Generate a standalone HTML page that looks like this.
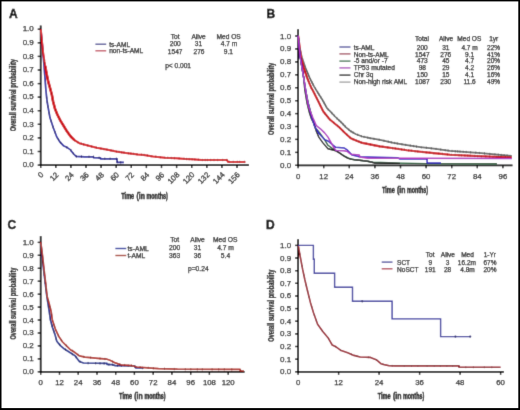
<!DOCTYPE html>
<html><head><meta charset="utf-8"><style>
html,body{margin:0;padding:0;background:#fff;width:520px;height:410px;overflow:hidden;}
svg{display:block;font-family:"Liberation Sans", sans-serif;}
</style></head><body>
<svg width="520" height="410" viewBox="0 0 520 410">
<defs><filter id="b" x="0" y="0" width="520" height="410" filterUnits="userSpaceOnUse"><feConvolveMatrix order="3" kernelMatrix="0.0113 0.0838 0.0113 0.0838 0.6193 0.0838 0.0113 0.0838 0.0113" edgeMode="duplicate"/></filter></defs>
<g filter="url(#b)">
<rect x="0" y="0" width="520" height="410" fill="#fff"/>
<text x="8.9" y="17.7" font-size="12" font-weight="bold" fill="#000" stroke="#000" stroke-width="0.4">A</text>
<line x1="40.7" y1="25.5" x2="40.7" y2="166.0" stroke="#000" stroke-width="1.8"/>
<line x1="39.800000000000004" y1="165.1" x2="249.0" y2="165.1" stroke="#000" stroke-width="1.8"/>
<line x1="37.7" y1="165.1" x2="40.7" y2="165.1" stroke="#000" stroke-width="1.4"/>
<text x="33.8" y="167.2" font-size="8" text-anchor="end" fill="#1a1a1a" stroke="#1a1a1a" stroke-width="0.25" font-weight="normal" >0.0</text>
<line x1="37.7" y1="151.5" x2="40.7" y2="151.5" stroke="#000" stroke-width="1.4"/>
<text x="33.8" y="153.7" font-size="8" text-anchor="end" fill="#1a1a1a" stroke="#1a1a1a" stroke-width="0.25" font-weight="normal" >0.1</text>
<line x1="37.7" y1="137.9" x2="40.7" y2="137.9" stroke="#000" stroke-width="1.4"/>
<text x="33.8" y="140.1" font-size="8" text-anchor="end" fill="#1a1a1a" stroke="#1a1a1a" stroke-width="0.25" font-weight="normal" >0.2</text>
<line x1="37.7" y1="124.3" x2="40.7" y2="124.3" stroke="#000" stroke-width="1.4"/>
<text x="33.8" y="126.5" font-size="8" text-anchor="end" fill="#1a1a1a" stroke="#1a1a1a" stroke-width="0.25" font-weight="normal" >0.3</text>
<line x1="37.7" y1="110.7" x2="40.7" y2="110.7" stroke="#000" stroke-width="1.4"/>
<text x="33.8" y="112.9" font-size="8" text-anchor="end" fill="#1a1a1a" stroke="#1a1a1a" stroke-width="0.25" font-weight="normal" >0.4</text>
<line x1="37.7" y1="97.1" x2="40.7" y2="97.1" stroke="#000" stroke-width="1.4"/>
<text x="33.8" y="99.3" font-size="8" text-anchor="end" fill="#1a1a1a" stroke="#1a1a1a" stroke-width="0.25" font-weight="normal" >0.5</text>
<line x1="37.7" y1="83.6" x2="40.7" y2="83.6" stroke="#000" stroke-width="1.4"/>
<text x="33.8" y="85.7" font-size="8" text-anchor="end" fill="#1a1a1a" stroke="#1a1a1a" stroke-width="0.25" font-weight="normal" >0.6</text>
<line x1="37.7" y1="70.0" x2="40.7" y2="70.0" stroke="#000" stroke-width="1.4"/>
<text x="33.8" y="72.1" font-size="8" text-anchor="end" fill="#1a1a1a" stroke="#1a1a1a" stroke-width="0.25" font-weight="normal" >0.7</text>
<line x1="37.7" y1="56.4" x2="40.7" y2="56.4" stroke="#000" stroke-width="1.4"/>
<text x="33.8" y="58.5" font-size="8" text-anchor="end" fill="#1a1a1a" stroke="#1a1a1a" stroke-width="0.25" font-weight="normal" >0.8</text>
<line x1="37.7" y1="42.8" x2="40.7" y2="42.8" stroke="#000" stroke-width="1.4"/>
<text x="33.8" y="44.9" font-size="8" text-anchor="end" fill="#1a1a1a" stroke="#1a1a1a" stroke-width="0.25" font-weight="normal" >0.9</text>
<line x1="37.7" y1="29.2" x2="40.7" y2="29.2" stroke="#000" stroke-width="1.4"/>
<text x="33.8" y="31.3" font-size="8" text-anchor="end" fill="#1a1a1a" stroke="#1a1a1a" stroke-width="0.25" font-weight="normal" >1.0</text>
<line x1="40.7" y1="165.1" x2="40.7" y2="168.1" stroke="#000" stroke-width="1.4"/>
<line x1="55.8" y1="165.1" x2="55.8" y2="168.1" stroke="#000" stroke-width="1.4"/>
<line x1="70.9" y1="165.1" x2="70.9" y2="168.1" stroke="#000" stroke-width="1.4"/>
<line x1="86.0" y1="165.1" x2="86.0" y2="168.1" stroke="#000" stroke-width="1.4"/>
<line x1="101.1" y1="165.1" x2="101.1" y2="168.1" stroke="#000" stroke-width="1.4"/>
<line x1="116.2" y1="165.1" x2="116.2" y2="168.1" stroke="#000" stroke-width="1.4"/>
<line x1="131.3" y1="165.1" x2="131.3" y2="168.1" stroke="#000" stroke-width="1.4"/>
<line x1="146.4" y1="165.1" x2="146.4" y2="168.1" stroke="#000" stroke-width="1.4"/>
<line x1="161.5" y1="165.1" x2="161.5" y2="168.1" stroke="#000" stroke-width="1.4"/>
<line x1="176.6" y1="165.1" x2="176.6" y2="168.1" stroke="#000" stroke-width="1.4"/>
<line x1="191.7" y1="165.1" x2="191.7" y2="168.1" stroke="#000" stroke-width="1.4"/>
<line x1="206.8" y1="165.1" x2="206.8" y2="168.1" stroke="#000" stroke-width="1.4"/>
<line x1="221.9" y1="165.1" x2="221.9" y2="168.1" stroke="#000" stroke-width="1.4"/>
<line x1="237.0" y1="165.1" x2="237.0" y2="168.1" stroke="#000" stroke-width="1.4"/>
<text transform="translate(44.1,175.3) rotate(-45)" font-size="7.8" text-anchor="end" fill="#1a1a1a" stroke="#1a1a1a" stroke-width="0.25">0</text>
<text transform="translate(59.2,175.3) rotate(-45)" font-size="7.8" text-anchor="end" fill="#1a1a1a" stroke="#1a1a1a" stroke-width="0.25">12</text>
<text transform="translate(74.3,175.3) rotate(-45)" font-size="7.8" text-anchor="end" fill="#1a1a1a" stroke="#1a1a1a" stroke-width="0.25">24</text>
<text transform="translate(89.4,175.3) rotate(-45)" font-size="7.8" text-anchor="end" fill="#1a1a1a" stroke="#1a1a1a" stroke-width="0.25">36</text>
<text transform="translate(104.5,175.3) rotate(-45)" font-size="7.8" text-anchor="end" fill="#1a1a1a" stroke="#1a1a1a" stroke-width="0.25">48</text>
<text transform="translate(119.6,175.3) rotate(-45)" font-size="7.8" text-anchor="end" fill="#1a1a1a" stroke="#1a1a1a" stroke-width="0.25">60</text>
<text transform="translate(134.7,175.3) rotate(-45)" font-size="7.8" text-anchor="end" fill="#1a1a1a" stroke="#1a1a1a" stroke-width="0.25">72</text>
<text transform="translate(149.8,175.3) rotate(-45)" font-size="7.8" text-anchor="end" fill="#1a1a1a" stroke="#1a1a1a" stroke-width="0.25">84</text>
<text transform="translate(164.9,175.3) rotate(-45)" font-size="7.8" text-anchor="end" fill="#1a1a1a" stroke="#1a1a1a" stroke-width="0.25">96</text>
<text transform="translate(180.0,175.3) rotate(-45)" font-size="7.8" text-anchor="end" fill="#1a1a1a" stroke="#1a1a1a" stroke-width="0.25">108</text>
<text transform="translate(195.1,175.3) rotate(-45)" font-size="7.8" text-anchor="end" fill="#1a1a1a" stroke="#1a1a1a" stroke-width="0.25">120</text>
<text transform="translate(210.2,175.3) rotate(-45)" font-size="7.8" text-anchor="end" fill="#1a1a1a" stroke="#1a1a1a" stroke-width="0.25">132</text>
<text transform="translate(225.3,175.3) rotate(-45)" font-size="7.8" text-anchor="end" fill="#1a1a1a" stroke="#1a1a1a" stroke-width="0.25">144</text>
<text transform="translate(240.4,175.3) rotate(-45)" font-size="7.8" text-anchor="end" fill="#1a1a1a" stroke="#1a1a1a" stroke-width="0.25">156</text>
<text transform="translate(16.0,131.3) rotate(-90)" x="0" y="0" font-size="9" font-weight="bold" fill="#111" stroke="#111" stroke-width="0.3" textLength="72.3" lengthAdjust="spacingAndGlyphs">Overall survival probability</text>
<text x="121.30" y="199.0" font-size="9.5" font-weight="bold" fill="#111" stroke="#111" stroke-width="0.45" textLength="12.90" lengthAdjust="spacingAndGlyphs">Time</text>
<text x="136.50" y="199.0" font-size="9.5" font-weight="bold" fill="#111" stroke="#111" stroke-width="0.45" textLength="8.40" lengthAdjust="spacingAndGlyphs">(in</text>
<text x="146.60" y="199.0" font-size="9.5" font-weight="bold" fill="#111" stroke="#111" stroke-width="0.45" textLength="21.10" lengthAdjust="spacingAndGlyphs">months)</text>
<polyline points="40.8,29.1 42.3,44.5 43.3,56.2 43.9,64.0 44.8,75.7 45.8,89.0 46.8,99.1 47.8,105.6 50.0,117.8 53.4,128.0 56.8,137.0 59.8,141.8 63.4,145.7 67.3,147.6 70.2,149.6 73.2,153.5 76.1,156.4 84.9,156.8 93.5,156.8 93.5,157.6 100.5,157.8 100.5,158.8 117.1,158.8 117.1,162.3 123.9,162.3" fill="none" stroke="#2222a0" stroke-width="1.7" stroke-linejoin="round" />
<path d="M46.7,96.7v2.4 M47.2,100.8v2.4 M48.0,105.4v2.4 M49.2,111.9v2.4 M51.1,119.8v2.4 M53.1,125.9v2.4 M55.0,131.0v2.4 M58.5,138.5v2.4 M60.7,141.6v2.4 M66.8,146.2v2.4 M70.8,149.1v2.4 M73.4,152.5v2.4 M76.4,155.2v2.4 M81.5,155.4v2.4 M89.0,155.6v2.4 M93.5,155.6v2.4 M99.1,156.6v2.4 M104.8,157.6v2.4 M110.1,157.6v2.4 M116.4,157.6v2.4 M117.1,160.8v2.4 M120.7,161.1v2.4" stroke="#1a1060" stroke-width="0.8" fill="none"/>
<polyline points="45.2,66.0 46.6,73.7 48.2,81.4 50.2,88.6 51.9,95.0 53.1,101.5 54.9,108.4 57.3,114.5 60.4,120.6 63.4,125.5 67.1,131.6 70.7,136.5 74.4,140.1" fill="none" stroke="#d40c18" stroke-width="2.6" stroke-linejoin="round" />
<polyline points="40.8,29.1 41.9,40.6 43.1,52.3 44.5,62.0 45.2,66.0 46.6,73.7 48.2,81.4 50.2,88.6 51.9,95.0 53.1,101.5 54.9,108.4 57.3,114.5 60.4,120.6 63.4,125.5 67.1,131.6 70.7,136.5 74.4,140.1 79.3,143.2 86.8,145.2 96.6,147.8 106.4,149.6 116.1,151.5 125.9,152.9 138.0,154.5 143.8,154.9 153.1,156.5 164.6,157.7 176.2,158.2 185.4,158.9 192.3,159.3 201.5,160.0 227.0,160.0 228.0,161.9 245.4,161.9" fill="none" stroke="#d80a14" stroke-width="2.0" stroke-linejoin="round" />
<path d="M44.2,58.4v2.4 M44.7,62.2v2.4 M45.4,65.8v2.4 M46.2,70.4v2.4 M47.0,74.6v2.4 M47.6,77.5v2.4 M48.8,82.4v2.4 M49.5,84.8v2.4 M50.4,88.0v2.4 M51.5,92.2v2.4 M52.1,94.8v2.4 M52.7,98.3v2.4 M53.2,100.5v2.4 M54.2,104.4v2.4 M55.5,108.6v2.4 M56.8,112.2v2.4 M58.9,116.4v2.4 M60.3,119.1v2.4 M62.4,122.7v2.4 M64.4,126.0v2.4 M66.4,129.3v2.4 M68.4,132.1v2.4 M71.2,135.7v2.4 M74.7,139.1v2.4 M77.7,141.0v2.4 M81.4,142.6v2.4 M83.6,143.2v2.4 M87.7,144.2v2.4 M91.6,145.3v2.4 M96.4,146.5v2.4 M100.9,147.4v2.4 M103.8,147.9v2.4 M107.0,148.5v2.4 M111.0,149.3v2.4 M113.2,149.7v2.4 M116.6,150.4v2.4 M119.2,150.7v2.4 M121.7,151.1v2.4 M124.0,151.4v2.4 M128.4,152.0v2.4 M130.9,152.4v2.4 M133.7,152.7v2.4 M137.0,153.2v2.4 M141.6,153.6v2.4 M144.0,153.7v2.4 M147.4,154.3v2.4 M151.1,155.0v2.4 M155.8,155.6v2.4 M160.3,156.0v2.4 M164.9,156.5v2.4 M167.8,156.6v2.4 M171.2,156.8v2.4 M174.4,156.9v2.4 M179.1,157.2v2.4 M184.0,157.6v2.4 M186.6,157.8v2.4 M189.2,157.9v2.4 M192.1,158.1v2.4 M194.9,158.3v2.4 M198.4,158.6v2.4 M202.3,158.8v2.4 M205.2,158.8v2.4 M207.4,158.8v2.4 M210.7,158.8v2.4 M214.0,158.8v2.4 M217.7,158.8v2.4 M222.7,158.8v2.4 M226.8,158.8v2.4 M229.3,160.7v2.4 M233.2,160.7v2.4 M237.3,160.7v2.4 M239.7,160.7v2.4 M244.4,160.7v2.4" stroke="#a00c18" stroke-width="0.6" fill="none"/>
<line x1="95.4" y1="44.2" x2="106.2" y2="44.2" stroke="#4a4a90" stroke-width="1.3"/>
<line x1="95.4" y1="50.8" x2="106.2" y2="50.8" stroke="#c04a5a" stroke-width="1.3"/>
<text x="109.2" y="46.6" font-size="6.6" text-anchor="start" fill="#1a1a1a" stroke="#1a1a1a" stroke-width="0.25" font-weight="normal" >ts-AML</text>
<text x="109.2" y="53.2" font-size="6.6" text-anchor="start" fill="#1a1a1a" stroke="#1a1a1a" stroke-width="0.25" font-weight="normal" >non-ts-AML</text>
<text x="175.2" y="39.0" font-size="6.6" text-anchor="middle" fill="#1a1a1a" stroke="#1a1a1a" stroke-width="0.25" font-weight="normal" >Tot</text>
<text x="198.6" y="39.0" font-size="6.6" text-anchor="middle" fill="#1a1a1a" stroke="#1a1a1a" stroke-width="0.25" font-weight="normal" >Alive</text>
<text x="228.6" y="39.0" font-size="6.6" text-anchor="middle" fill="#1a1a1a" stroke="#1a1a1a" stroke-width="0.25" font-weight="normal" >Med OS</text>
<text x="175.3" y="45.9" font-size="6.6" text-anchor="middle" fill="#1a1a1a" stroke="#1a1a1a" stroke-width="0.25" font-weight="normal" >200</text>
<text x="198.5" y="45.9" font-size="6.6" text-anchor="middle" fill="#1a1a1a" stroke="#1a1a1a" stroke-width="0.25" font-weight="normal" >31</text>
<text x="229.0" y="45.9" font-size="6.6" text-anchor="middle" fill="#1a1a1a" stroke="#1a1a1a" stroke-width="0.25" font-weight="normal" >4.7 m</text>
<text x="175.2" y="53.7" font-size="6.6" text-anchor="middle" fill="#1a1a1a" stroke="#1a1a1a" stroke-width="0.25" font-weight="normal" >1547</text>
<text x="199.0" y="53.7" font-size="6.6" text-anchor="middle" fill="#1a1a1a" stroke="#1a1a1a" stroke-width="0.25" font-weight="normal" >276</text>
<text x="228.4" y="53.7" font-size="6.6" text-anchor="middle" fill="#1a1a1a" stroke="#1a1a1a" stroke-width="0.25" font-weight="normal" >9.1</text>
<text x="165.2" y="67.5" font-size="6.6" text-anchor="start" fill="#1a1a1a" stroke="#1a1a1a" stroke-width="0.25" font-weight="normal" >p&lt; 0.001</text>
<text x="266.4" y="17.8" font-size="12" font-weight="bold" fill="#000" stroke="#000" stroke-width="0.4">B</text>
<line x1="298.1" y1="29.3" x2="298.1" y2="166.20000000000002" stroke="#000" stroke-width="1.8"/>
<line x1="297.20000000000005" y1="165.3" x2="512.5" y2="165.3" stroke="#000" stroke-width="1.8"/>
<line x1="295.1" y1="165.3" x2="298.1" y2="165.3" stroke="#000" stroke-width="1.4"/>
<text x="291.2" y="167.8" font-size="8" text-anchor="end" fill="#1a1a1a" stroke="#1a1a1a" stroke-width="0.25" font-weight="normal" >0.0</text>
<line x1="295.1" y1="152.4" x2="298.1" y2="152.4" stroke="#000" stroke-width="1.4"/>
<text x="291.2" y="154.8" font-size="8" text-anchor="end" fill="#1a1a1a" stroke="#1a1a1a" stroke-width="0.25" font-weight="normal" >0.1</text>
<line x1="295.1" y1="139.4" x2="298.1" y2="139.4" stroke="#000" stroke-width="1.4"/>
<text x="291.2" y="141.9" font-size="8" text-anchor="end" fill="#1a1a1a" stroke="#1a1a1a" stroke-width="0.25" font-weight="normal" >0.2</text>
<line x1="295.1" y1="126.5" x2="298.1" y2="126.5" stroke="#000" stroke-width="1.4"/>
<text x="291.2" y="129.0" font-size="8" text-anchor="end" fill="#1a1a1a" stroke="#1a1a1a" stroke-width="0.25" font-weight="normal" >0.3</text>
<line x1="295.1" y1="113.6" x2="298.1" y2="113.6" stroke="#000" stroke-width="1.4"/>
<text x="291.2" y="116.0" font-size="8" text-anchor="end" fill="#1a1a1a" stroke="#1a1a1a" stroke-width="0.25" font-weight="normal" >0.4</text>
<line x1="295.1" y1="100.7" x2="298.1" y2="100.7" stroke="#000" stroke-width="1.4"/>
<text x="291.2" y="103.1" font-size="8" text-anchor="end" fill="#1a1a1a" stroke="#1a1a1a" stroke-width="0.25" font-weight="normal" >0.5</text>
<line x1="295.1" y1="87.7" x2="298.1" y2="87.7" stroke="#000" stroke-width="1.4"/>
<text x="291.2" y="90.2" font-size="8" text-anchor="end" fill="#1a1a1a" stroke="#1a1a1a" stroke-width="0.25" font-weight="normal" >0.6</text>
<line x1="295.1" y1="74.8" x2="298.1" y2="74.8" stroke="#000" stroke-width="1.4"/>
<text x="291.2" y="77.2" font-size="8" text-anchor="end" fill="#1a1a1a" stroke="#1a1a1a" stroke-width="0.25" font-weight="normal" >0.7</text>
<line x1="295.1" y1="61.9" x2="298.1" y2="61.9" stroke="#000" stroke-width="1.4"/>
<text x="291.2" y="64.3" font-size="8" text-anchor="end" fill="#1a1a1a" stroke="#1a1a1a" stroke-width="0.25" font-weight="normal" >0.8</text>
<line x1="295.1" y1="48.9" x2="298.1" y2="48.9" stroke="#000" stroke-width="1.4"/>
<text x="291.2" y="51.4" font-size="8" text-anchor="end" fill="#1a1a1a" stroke="#1a1a1a" stroke-width="0.25" font-weight="normal" >0.9</text>
<line x1="295.1" y1="36.0" x2="298.1" y2="36.0" stroke="#000" stroke-width="1.4"/>
<text x="291.2" y="38.5" font-size="8" text-anchor="end" fill="#1a1a1a" stroke="#1a1a1a" stroke-width="0.25" font-weight="normal" >1.0</text>
<line x1="298.1" y1="165.3" x2="298.1" y2="168.3" stroke="#000" stroke-width="1.4"/>
<line x1="323.7" y1="165.3" x2="323.7" y2="168.3" stroke="#000" stroke-width="1.4"/>
<line x1="349.3" y1="165.3" x2="349.3" y2="168.3" stroke="#000" stroke-width="1.4"/>
<line x1="374.9" y1="165.3" x2="374.9" y2="168.3" stroke="#000" stroke-width="1.4"/>
<line x1="400.5" y1="165.3" x2="400.5" y2="168.3" stroke="#000" stroke-width="1.4"/>
<line x1="426.1" y1="165.3" x2="426.1" y2="168.3" stroke="#000" stroke-width="1.4"/>
<line x1="451.7" y1="165.3" x2="451.7" y2="168.3" stroke="#000" stroke-width="1.4"/>
<line x1="477.3" y1="165.3" x2="477.3" y2="168.3" stroke="#000" stroke-width="1.4"/>
<line x1="502.9" y1="165.3" x2="502.9" y2="168.3" stroke="#000" stroke-width="1.4"/>
<text x="298.1" y="179.2" font-size="7.8" text-anchor="middle" fill="#1a1a1a" stroke="#1a1a1a" stroke-width="0.25" font-weight="normal" >0</text>
<text x="323.7" y="179.2" font-size="7.8" text-anchor="middle" fill="#1a1a1a" stroke="#1a1a1a" stroke-width="0.25" font-weight="normal" >12</text>
<text x="349.3" y="179.2" font-size="7.8" text-anchor="middle" fill="#1a1a1a" stroke="#1a1a1a" stroke-width="0.25" font-weight="normal" >24</text>
<text x="374.9" y="179.2" font-size="7.8" text-anchor="middle" fill="#1a1a1a" stroke="#1a1a1a" stroke-width="0.25" font-weight="normal" >36</text>
<text x="400.5" y="179.2" font-size="7.8" text-anchor="middle" fill="#1a1a1a" stroke="#1a1a1a" stroke-width="0.25" font-weight="normal" >48</text>
<text x="426.1" y="179.2" font-size="7.8" text-anchor="middle" fill="#1a1a1a" stroke="#1a1a1a" stroke-width="0.25" font-weight="normal" >60</text>
<text x="451.7" y="179.2" font-size="7.8" text-anchor="middle" fill="#1a1a1a" stroke="#1a1a1a" stroke-width="0.25" font-weight="normal" >72</text>
<text x="477.3" y="179.2" font-size="7.8" text-anchor="middle" fill="#1a1a1a" stroke="#1a1a1a" stroke-width="0.25" font-weight="normal" >84</text>
<text x="502.9" y="179.2" font-size="7.8" text-anchor="middle" fill="#1a1a1a" stroke="#1a1a1a" stroke-width="0.25" font-weight="normal" >96</text>
<text transform="translate(273.9,134.9) rotate(-90)" x="0" y="0" font-size="9" font-weight="bold" fill="#111" stroke="#111" stroke-width="0.3" textLength="72.1" lengthAdjust="spacingAndGlyphs">Overall survival probability</text>
<text x="382.00" y="193.2" font-size="9.5" font-weight="bold" fill="#111" stroke="#111" stroke-width="0.45" textLength="12.79" lengthAdjust="spacingAndGlyphs">Time</text>
<text x="397.07" y="193.2" font-size="9.5" font-weight="bold" fill="#111" stroke="#111" stroke-width="0.45" textLength="8.33" lengthAdjust="spacingAndGlyphs">(in</text>
<text x="407.08" y="193.2" font-size="9.5" font-weight="bold" fill="#111" stroke="#111" stroke-width="0.45" textLength="20.92" lengthAdjust="spacingAndGlyphs">months)</text>
<polyline points="298.1,35.6 299.4,47.1 302.0,57.4 305.4,67.6 309.7,77.9 314.0,86.4 318.2,93.2 322.5,100.0 327.2,108.5 330.0,111.2 335.0,116.5 341.5,122.7 346.0,127.3 350.8,131.3 356.0,134.2 362.3,136.5 370.0,138.2 380.0,139.9 393.5,142.8 406.9,145.1 420.4,147.2 433.8,148.6 450.0,150.9 481.3,153.1 512.0,156.0" fill="none" stroke="#686868" stroke-width="1.7" stroke-linejoin="round" />
<path d="M305.2,65.9v2.4 M306.5,69.0v2.4 M307.4,71.2v2.4 M308.3,73.3v2.4 M309.4,75.9v2.4 M310.5,78.2v2.4 M312.0,81.2v2.4 M313.1,83.3v2.4 M315.5,87.6v2.4 M317.7,91.2v2.4 M319.1,93.5v2.4 M320.8,96.0v2.4 M322.5,98.9v2.4 M324.2,101.8v2.4 M325.5,104.1v2.4 M328.1,108.2v2.4 M331.8,111.9v2.4 M334.4,114.6v2.4 M337.0,117.3v2.4 M338.9,119.0v2.4 M340.8,120.8v2.4 M343.1,123.1v2.4 M345.3,125.3v2.4 M348.9,128.5v2.4 M351.0,130.2v2.4 M353.1,131.4v2.4 M357.7,133.6v2.4 M361.4,135.0v2.4 M364.0,135.7v2.4 M367.8,136.5v2.4 M370.2,137.0v2.4 M374.0,137.7v2.4 M379.2,138.6v2.4 M384.0,139.6v2.4 M388.3,140.5v2.4 M391.3,141.1v2.4 M394.6,141.8v2.4 M397.3,142.3v2.4 M401.9,143.0v2.4 M405.7,143.7v2.4 M410.3,144.4v2.4 M413.6,144.9v2.4 M416.5,145.4v2.4 M421.2,146.1v2.4 M426.4,146.6v2.4 M431.3,147.1v2.4 M436.0,147.7v2.4 M440.7,148.4v2.4 M445.2,149.0v2.4 M448.1,149.4v2.4 M452.0,149.8v2.4 M455.3,150.1v2.4 M457.7,150.2v2.4 M460.0,150.4v2.4 M463.2,150.6v2.4 M466.2,150.8v2.4 M470.6,151.1v2.4 M475.8,151.5v2.4 M479.4,151.8v2.4 M484.5,152.2v2.4 M489.8,152.7v2.4 M494.9,153.2v2.4 M498.3,153.5v2.4 M501.2,153.8v2.4 M504.2,154.1v2.4 M507.1,154.3v2.4 M509.9,154.6v2.4" stroke="#505050" stroke-width="0.7" fill="none"/>
<polyline points="298.1,35.6 301.1,57.4 303.7,67.6 307.1,77.9 311.4,88.1 312.6,90.0 317.5,99.8 323.3,111.5 329.5,119.2 339.2,127.3 345.0,133.0 350.8,138.3 356.0,140.5 362.3,142.9 376.1,145.6 380.0,146.4 393.5,148.2 406.9,150.2 420.4,151.8 433.8,153.1 450.0,154.7 481.3,156.3 512.0,157.5" fill="none" stroke="#d00a14" stroke-width="2.1" stroke-linejoin="round" />
<path d="M305.3,71.1v2.4 M306.7,75.4v2.4 M308.0,78.9v2.4 M309.1,81.5v2.4 M311.0,85.8v2.4 M312.5,88.7v2.4 M314.7,92.9v2.4 M317.0,97.6v2.4 M318.6,100.7v2.4 M320.1,103.9v2.4 M322.4,108.5v2.4 M324.8,112.2v2.4 M326.6,114.4v2.4 M328.3,116.5v2.4 M330.1,118.5v2.4 M333.9,121.7v2.4 M337.6,124.7v2.4 M339.6,126.5v2.4 M343.1,129.9v2.4 M346.9,133.5v2.4 M350.0,136.4v2.4 M352.9,138.0v2.4 M356.6,139.5v2.4 M359.1,140.5v2.4 M361.2,141.3v2.4 M366.3,142.5v2.4 M370.5,143.3v2.4 M374.3,144.0v2.4 M379.3,145.1v2.4 M382.9,145.6v2.4 M387.8,146.2v2.4 M392.5,146.9v2.4 M395.4,147.3v2.4 M398.4,147.7v2.4 M401.6,148.2v2.4 M404.5,148.6v2.4 M408.6,149.2v2.4 M411.6,149.6v2.4 M415.1,150.0v2.4 M417.8,150.3v2.4 M422.8,150.8v2.4 M426.2,151.2v2.4 M429.8,151.5v2.4 M433.8,151.9v2.4 M438.8,152.4v2.4 M442.4,152.7v2.4 M447.4,153.2v2.4 M451.2,153.6v2.4 M455.1,153.8v2.4 M459.0,154.0v2.4 M461.3,154.1v2.4 M464.9,154.3v2.4 M467.8,154.4v2.4 M470.1,154.5v2.4 M474.8,154.8v2.4 M477.6,154.9v2.4 M481.3,155.1v2.4 M485.8,155.3v2.4 M489.7,155.4v2.4 M493.0,155.6v2.4 M496.8,155.7v2.4 M500.8,155.9v2.4 M505.5,156.0v2.4 M508.1,156.1v2.4" stroke="#a01018" stroke-width="0.6" fill="none"/>
<polyline points="298.1,35.6 300.3,57.4 302.0,67.6 303.7,77.9 305.5,90.0 308.5,104.0 311.5,115.0 313.5,122.0 315.5,128.0 320.4,133.8 324.6,139.6 328.0,145.3 331.9,148.1 335.8,150.4 339.7,153.0 343.6,155.5 348.5,158.2 354.6,159.7 363.8,160.8 373.0,162.3 388.5,162.8 399.2,163.1 427.0,163.6 497.0,163.8" fill="none" stroke="#1a5a30" stroke-width="1.4" stroke-linejoin="round" />
<polyline points="298.1,35.6 300.3,57.4 302.0,67.6 303.7,77.9 304.8,90.0 307.0,103.0 309.5,113.0 311.5,119.0 313.8,123.5 316.3,131.3 318.8,137.1 322.9,142.9 328.0,148.8 335.8,150.8 339.7,153.1 343.6,155.9 347.5,158.2 351.4,159.4 359.3,160.2 368.0,161.3 374.6,163.0 400.0,163.4" fill="none" stroke="#111111" stroke-width="1.4" stroke-linejoin="round" />
<polyline points="298.1,35.6 300.3,57.4 302.0,67.6 303.7,77.9 305.4,88.1 307.3,100.0 309.8,110.0 312.2,119.0 314.6,126.3 319.0,133.5 324.6,139.6 328.0,141.0 332.7,144.9 335.8,147.3 344.4,148.1 346.8,149.6 349.9,152.8 352.2,155.1 359.3,156.7 368.0,157.0 376.2,157.2 397.7,157.7 399.5,158.9 427.1,158.9 427.1,163.0 441.0,163.0" fill="none" stroke="#3020c0" stroke-width="1.5" stroke-linejoin="round" />
<polyline points="298.1,35.6 300.3,57.4 302.0,67.6 303.7,77.9 305.6,90.0 308.3,105.9 311.0,113.0 313.0,118.0 316.3,125.5 320.4,128.8 324.6,132.9 328.0,137.1 331.1,142.6 334.3,148.1 335.8,150.4 343.6,150.8 347.5,151.6 350.7,154.3 359.3,155.1 360.0,157.0 368.0,158.2 399.2,158.3 512.0,158.5" fill="none" stroke="#b030c0" stroke-width="1.5" stroke-linejoin="round" />
<line x1="339.4" y1="47.0" x2="350.5" y2="47.0" stroke="#50509a" stroke-width="1.3"/>
<line x1="339.4" y1="53.9" x2="350.5" y2="53.9" stroke="#a05060" stroke-width="1.3"/>
<line x1="339.4" y1="61.1" x2="350.5" y2="61.1" stroke="#407050" stroke-width="1.3"/>
<line x1="339.4" y1="67.9" x2="350.5" y2="67.9" stroke="#a850b8" stroke-width="1.3"/>
<line x1="339.4" y1="75.1" x2="350.5" y2="75.1" stroke="#202020" stroke-width="1.3"/>
<line x1="339.4" y1="82.1" x2="350.5" y2="82.1" stroke="#a0a0a0" stroke-width="1.3"/>
<text x="353.7" y="49.9" font-size="6.55" text-anchor="start" fill="#1a1a1a" stroke="#1a1a1a" stroke-width="0.25" font-weight="normal" >ts-AML</text>
<text x="353.7" y="56.6" font-size="6.55" text-anchor="start" fill="#1a1a1a" stroke="#1a1a1a" stroke-width="0.25" font-weight="normal" >Non-ts-AML</text>
<text x="353.7" y="63.3" font-size="6.55" text-anchor="start" fill="#1a1a1a" stroke="#1a1a1a" stroke-width="0.25" font-weight="normal" >-5 and/or -7</text>
<text x="353.7" y="70.1" font-size="6.55" text-anchor="start" fill="#1a1a1a" stroke="#1a1a1a" stroke-width="0.25" font-weight="normal" >TP53 mutated</text>
<text x="353.7" y="77.2" font-size="6.55" text-anchor="start" fill="#1a1a1a" stroke="#1a1a1a" stroke-width="0.25" font-weight="normal" >Chr 3q</text>
<text x="353.7" y="84.1" font-size="6.55" text-anchor="start" fill="#1a1a1a" stroke="#1a1a1a" stroke-width="0.25" font-weight="normal" >Non-high risk AML</text>
<text x="422.0" y="40.7" font-size="6.55" text-anchor="middle" fill="#1a1a1a" stroke="#1a1a1a" stroke-width="0.25" font-weight="normal" >Total</text>
<text x="446.0" y="40.7" font-size="6.55" text-anchor="middle" fill="#1a1a1a" stroke="#1a1a1a" stroke-width="0.25" font-weight="normal" >Alive</text>
<text x="469.3" y="40.7" font-size="6.55" text-anchor="middle" fill="#1a1a1a" stroke="#1a1a1a" stroke-width="0.25" font-weight="normal" >Med OS</text>
<text x="493.7" y="40.7" font-size="6.55" text-anchor="middle" fill="#1a1a1a" stroke="#1a1a1a" stroke-width="0.25" font-weight="normal" >1yr</text>
<text x="422.3" y="49.9" font-size="6.55" text-anchor="middle" fill="#1a1a1a" stroke="#1a1a1a" stroke-width="0.25" font-weight="normal" >200</text>
<text x="445.8" y="49.9" font-size="6.55" text-anchor="middle" fill="#1a1a1a" stroke="#1a1a1a" stroke-width="0.25" font-weight="normal" >31</text>
<text x="469.6" y="49.9" font-size="6.55" text-anchor="middle" fill="#1a1a1a" stroke="#1a1a1a" stroke-width="0.25" font-weight="normal" >4.7 m</text>
<text x="493.6" y="49.9" font-size="6.55" text-anchor="middle" fill="#1a1a1a" stroke="#1a1a1a" stroke-width="0.25" font-weight="normal" >22%</text>
<text x="422.3" y="56.6" font-size="6.55" text-anchor="middle" fill="#1a1a1a" stroke="#1a1a1a" stroke-width="0.25" font-weight="normal" >1547</text>
<text x="445.8" y="56.6" font-size="6.55" text-anchor="middle" fill="#1a1a1a" stroke="#1a1a1a" stroke-width="0.25" font-weight="normal" >276</text>
<text x="469.6" y="56.6" font-size="6.55" text-anchor="middle" fill="#1a1a1a" stroke="#1a1a1a" stroke-width="0.25" font-weight="normal" >9.1</text>
<text x="493.6" y="56.6" font-size="6.55" text-anchor="middle" fill="#1a1a1a" stroke="#1a1a1a" stroke-width="0.25" font-weight="normal" >41%</text>
<text x="422.3" y="63.3" font-size="6.55" text-anchor="middle" fill="#1a1a1a" stroke="#1a1a1a" stroke-width="0.25" font-weight="normal" >473</text>
<text x="445.8" y="63.3" font-size="6.55" text-anchor="middle" fill="#1a1a1a" stroke="#1a1a1a" stroke-width="0.25" font-weight="normal" >45</text>
<text x="469.6" y="63.3" font-size="6.55" text-anchor="middle" fill="#1a1a1a" stroke="#1a1a1a" stroke-width="0.25" font-weight="normal" >4.7</text>
<text x="493.6" y="63.3" font-size="6.55" text-anchor="middle" fill="#1a1a1a" stroke="#1a1a1a" stroke-width="0.25" font-weight="normal" >20%</text>
<text x="422.3" y="70.1" font-size="6.55" text-anchor="middle" fill="#1a1a1a" stroke="#1a1a1a" stroke-width="0.25" font-weight="normal" >98</text>
<text x="445.8" y="70.1" font-size="6.55" text-anchor="middle" fill="#1a1a1a" stroke="#1a1a1a" stroke-width="0.25" font-weight="normal" >29</text>
<text x="469.6" y="70.1" font-size="6.55" text-anchor="middle" fill="#1a1a1a" stroke="#1a1a1a" stroke-width="0.25" font-weight="normal" >4.2</text>
<text x="493.6" y="70.1" font-size="6.55" text-anchor="middle" fill="#1a1a1a" stroke="#1a1a1a" stroke-width="0.25" font-weight="normal" >26%</text>
<text x="422.3" y="77.2" font-size="6.55" text-anchor="middle" fill="#1a1a1a" stroke="#1a1a1a" stroke-width="0.25" font-weight="normal" >150</text>
<text x="445.8" y="77.2" font-size="6.55" text-anchor="middle" fill="#1a1a1a" stroke="#1a1a1a" stroke-width="0.25" font-weight="normal" >15</text>
<text x="469.6" y="77.2" font-size="6.55" text-anchor="middle" fill="#1a1a1a" stroke="#1a1a1a" stroke-width="0.25" font-weight="normal" >4.1</text>
<text x="493.6" y="77.2" font-size="6.55" text-anchor="middle" fill="#1a1a1a" stroke="#1a1a1a" stroke-width="0.25" font-weight="normal" >16%</text>
<text x="422.3" y="84.1" font-size="6.55" text-anchor="middle" fill="#1a1a1a" stroke="#1a1a1a" stroke-width="0.25" font-weight="normal" >1087</text>
<text x="445.8" y="84.1" font-size="6.55" text-anchor="middle" fill="#1a1a1a" stroke="#1a1a1a" stroke-width="0.25" font-weight="normal" >230</text>
<text x="469.6" y="84.1" font-size="6.55" text-anchor="middle" fill="#1a1a1a" stroke="#1a1a1a" stroke-width="0.25" font-weight="normal" >11.6</text>
<text x="493.6" y="84.1" font-size="6.55" text-anchor="middle" fill="#1a1a1a" stroke="#1a1a1a" stroke-width="0.25" font-weight="normal" >49%</text>
<text x="7.6" y="228.9" font-size="12" font-weight="bold" fill="#000" stroke="#000" stroke-width="0.4">C</text>
<line x1="40.7" y1="236.1" x2="40.7" y2="372.7" stroke="#000" stroke-width="1.8"/>
<line x1="39.800000000000004" y1="371.8" x2="244.6" y2="371.8" stroke="#000" stroke-width="1.8"/>
<line x1="37.7" y1="371.8" x2="40.7" y2="371.8" stroke="#000" stroke-width="1.4"/>
<text x="33.8" y="374.2" font-size="8" text-anchor="end" fill="#1a1a1a" stroke="#1a1a1a" stroke-width="0.25" font-weight="normal" >0.0</text>
<line x1="37.7" y1="358.9" x2="40.7" y2="358.9" stroke="#000" stroke-width="1.4"/>
<text x="33.8" y="361.3" font-size="8" text-anchor="end" fill="#1a1a1a" stroke="#1a1a1a" stroke-width="0.25" font-weight="normal" >0.1</text>
<line x1="37.7" y1="345.9" x2="40.7" y2="345.9" stroke="#000" stroke-width="1.4"/>
<text x="33.8" y="348.4" font-size="8" text-anchor="end" fill="#1a1a1a" stroke="#1a1a1a" stroke-width="0.25" font-weight="normal" >0.2</text>
<line x1="37.7" y1="333.0" x2="40.7" y2="333.0" stroke="#000" stroke-width="1.4"/>
<text x="33.8" y="335.4" font-size="8" text-anchor="end" fill="#1a1a1a" stroke="#1a1a1a" stroke-width="0.25" font-weight="normal" >0.3</text>
<line x1="37.7" y1="320.0" x2="40.7" y2="320.0" stroke="#000" stroke-width="1.4"/>
<text x="33.8" y="322.5" font-size="8" text-anchor="end" fill="#1a1a1a" stroke="#1a1a1a" stroke-width="0.25" font-weight="normal" >0.4</text>
<line x1="37.7" y1="307.1" x2="40.7" y2="307.1" stroke="#000" stroke-width="1.4"/>
<text x="33.8" y="309.6" font-size="8" text-anchor="end" fill="#1a1a1a" stroke="#1a1a1a" stroke-width="0.25" font-weight="normal" >0.5</text>
<line x1="37.7" y1="294.2" x2="40.7" y2="294.2" stroke="#000" stroke-width="1.4"/>
<text x="33.8" y="296.6" font-size="8" text-anchor="end" fill="#1a1a1a" stroke="#1a1a1a" stroke-width="0.25" font-weight="normal" >0.6</text>
<line x1="37.7" y1="281.2" x2="40.7" y2="281.2" stroke="#000" stroke-width="1.4"/>
<text x="33.8" y="283.7" font-size="8" text-anchor="end" fill="#1a1a1a" stroke="#1a1a1a" stroke-width="0.25" font-weight="normal" >0.7</text>
<line x1="37.7" y1="268.3" x2="40.7" y2="268.3" stroke="#000" stroke-width="1.4"/>
<text x="33.8" y="270.7" font-size="8" text-anchor="end" fill="#1a1a1a" stroke="#1a1a1a" stroke-width="0.25" font-weight="normal" >0.8</text>
<line x1="37.7" y1="255.3" x2="40.7" y2="255.3" stroke="#000" stroke-width="1.4"/>
<text x="33.8" y="257.8" font-size="8" text-anchor="end" fill="#1a1a1a" stroke="#1a1a1a" stroke-width="0.25" font-weight="normal" >0.9</text>
<line x1="37.7" y1="242.4" x2="40.7" y2="242.4" stroke="#000" stroke-width="1.4"/>
<text x="33.8" y="244.8" font-size="8" text-anchor="end" fill="#1a1a1a" stroke="#1a1a1a" stroke-width="0.25" font-weight="normal" >1.0</text>
<line x1="40.7" y1="371.8" x2="40.7" y2="374.8" stroke="#000" stroke-width="1.4"/>
<line x1="59.5" y1="371.8" x2="59.5" y2="374.8" stroke="#000" stroke-width="1.4"/>
<line x1="78.2" y1="371.8" x2="78.2" y2="374.8" stroke="#000" stroke-width="1.4"/>
<line x1="97.0" y1="371.8" x2="97.0" y2="374.8" stroke="#000" stroke-width="1.4"/>
<line x1="115.7" y1="371.8" x2="115.7" y2="374.8" stroke="#000" stroke-width="1.4"/>
<line x1="134.4" y1="371.8" x2="134.4" y2="374.8" stroke="#000" stroke-width="1.4"/>
<line x1="153.2" y1="371.8" x2="153.2" y2="374.8" stroke="#000" stroke-width="1.4"/>
<line x1="171.9" y1="371.8" x2="171.9" y2="374.8" stroke="#000" stroke-width="1.4"/>
<line x1="190.7" y1="371.8" x2="190.7" y2="374.8" stroke="#000" stroke-width="1.4"/>
<line x1="209.4" y1="371.8" x2="209.4" y2="374.8" stroke="#000" stroke-width="1.4"/>
<line x1="228.2" y1="371.8" x2="228.2" y2="374.8" stroke="#000" stroke-width="1.4"/>
<text x="40.7" y="385.0" font-size="7.8" text-anchor="middle" fill="#1a1a1a" stroke="#1a1a1a" stroke-width="0.25" font-weight="normal" >0</text>
<text x="59.5" y="385.0" font-size="7.8" text-anchor="middle" fill="#1a1a1a" stroke="#1a1a1a" stroke-width="0.25" font-weight="normal" >12</text>
<text x="78.2" y="385.0" font-size="7.8" text-anchor="middle" fill="#1a1a1a" stroke="#1a1a1a" stroke-width="0.25" font-weight="normal" >24</text>
<text x="97.0" y="385.0" font-size="7.8" text-anchor="middle" fill="#1a1a1a" stroke="#1a1a1a" stroke-width="0.25" font-weight="normal" >36</text>
<text x="115.7" y="385.0" font-size="7.8" text-anchor="middle" fill="#1a1a1a" stroke="#1a1a1a" stroke-width="0.25" font-weight="normal" >48</text>
<text x="134.4" y="385.0" font-size="7.8" text-anchor="middle" fill="#1a1a1a" stroke="#1a1a1a" stroke-width="0.25" font-weight="normal" >60</text>
<text x="153.2" y="385.0" font-size="7.8" text-anchor="middle" fill="#1a1a1a" stroke="#1a1a1a" stroke-width="0.25" font-weight="normal" >72</text>
<text x="171.9" y="385.0" font-size="7.8" text-anchor="middle" fill="#1a1a1a" stroke="#1a1a1a" stroke-width="0.25" font-weight="normal" >84</text>
<text x="190.7" y="385.0" font-size="7.8" text-anchor="middle" fill="#1a1a1a" stroke="#1a1a1a" stroke-width="0.25" font-weight="normal" >96</text>
<text x="209.4" y="385.0" font-size="7.8" text-anchor="middle" fill="#1a1a1a" stroke="#1a1a1a" stroke-width="0.25" font-weight="normal" >108</text>
<text x="228.2" y="385.0" font-size="7.8" text-anchor="middle" fill="#1a1a1a" stroke="#1a1a1a" stroke-width="0.25" font-weight="normal" >120</text>
<text transform="translate(15.9,339.5) rotate(-90)" x="0" y="0" font-size="9" font-weight="bold" fill="#111" stroke="#111" stroke-width="0.3" textLength="71.9" lengthAdjust="spacingAndGlyphs">Overall survival probability</text>
<text x="119.10" y="399.3" font-size="9.5" font-weight="bold" fill="#111" stroke="#111" stroke-width="0.45" textLength="12.93" lengthAdjust="spacingAndGlyphs">Time</text>
<text x="134.33" y="399.3" font-size="9.5" font-weight="bold" fill="#111" stroke="#111" stroke-width="0.45" textLength="8.42" lengthAdjust="spacingAndGlyphs">(in</text>
<text x="144.45" y="399.3" font-size="9.5" font-weight="bold" fill="#111" stroke="#111" stroke-width="0.45" textLength="21.15" lengthAdjust="spacingAndGlyphs">months)</text>
<polyline points="40.7,241.8 42.1,255.5 44.0,272.6 45.7,287.0 46.8,296.0 49.1,310.6 50.5,320.0 52.4,327.3 55.0,334.6 56.8,341.2 60.4,345.6 64.8,349.3 71.1,353.2 75.2,355.9 79.4,361.5 83.5,363.0 107.0,363.4 107.0,364.4 112.0,364.6 115.4,365.6 134.3,365.8 135.6,367.8 143.7,368.0" fill="none" stroke="#1f2f90" stroke-width="1.7" stroke-linejoin="round" />
<path d="M42.1,254.3v2.4 M42.8,260.3v2.4 M43.5,266.5v2.4 M44.3,273.7v2.4 M45.2,281.6v2.4 M45.9,287.3v2.4 M46.7,293.8v2.4 M47.6,299.8v2.4 M48.5,305.8v2.4 M49.6,312.6v2.4 M50.4,318.3v2.4 M51.9,324.3v2.4 M53.7,329.9v2.4 M56.2,337.6v2.4 M59.7,343.5v2.4 M65.5,348.6v2.4 M72.4,352.9v2.4 M76.1,355.9v2.4 M80.2,360.6v2.4 M88.1,361.9v2.4 M95.7,362.0v2.4 M100.0,362.1v2.4 M104.1,362.2v2.4 M108.9,363.3v2.4 M112.8,363.6v2.4 M117.4,364.4v2.4 M121.4,364.5v2.4 M128.2,364.5v2.4 M135.0,365.6v2.4 M142.4,366.8v2.4" stroke="#101860" stroke-width="0.8" fill="none"/>
<polyline points="40.7,241.8 42.5,255.5 44.4,272.6 46.0,286.0 47.0,296.0 49.0,303.0 51.0,310.6 52.4,320.0 55.3,328.8 59.0,336.8 62.6,342.0 67.0,346.3 70.7,350.0 73.2,351.3 79.4,355.9 85.0,357.2 98.0,358.4 107.0,359.2 110.0,360.2 115.4,362.9 120.8,364.8 131.6,365.6 137.0,367.0 147.7,367.8 158.5,368.6 177.4,369.2 240.1,369.4 240.3,371.0 244.0,371.0" fill="none" stroke="#b02a20" stroke-width="1.7" stroke-linejoin="round" />
<path d="M42.6,255.2v2.4 M43.2,260.9v2.4 M44.4,271.3v2.4 M45.7,282.2v2.4 M46.4,288.4v2.4 M48.2,299.1v2.4 M50.1,306.2v2.4 M51.7,313.9v2.4 M54.3,324.7v2.4 M58.3,334.0v2.4 M61.3,339.0v2.4 M66.4,344.5v2.4 M72.5,349.7v2.4 M78.2,353.8v2.4 M83.8,355.7v2.4 M90.6,356.5v2.4 M100.0,357.4v2.4 M104.9,357.8v2.4 M112.7,360.4v2.4 M119.8,363.2v2.4 M124.6,363.9v2.4 M131.5,364.4v2.4 M140.1,366.0v2.4 M148.2,366.6v2.4 M153.4,367.0v2.4 M164.5,367.6v2.4 M174.3,367.9v2.4 M185.3,368.0v2.4 M190.8,368.0v2.4 M197.3,368.1v2.4 M202.3,368.1v2.4 M212.1,368.1v2.4 M218.7,368.1v2.4 M224.3,368.1v2.4 M231.8,368.2v2.4 M241.0,369.8v2.4" stroke="#802018" stroke-width="0.6" fill="none"/>
<line x1="115.4" y1="248.5" x2="126.2" y2="248.5" stroke="#2838a0" stroke-width="1.4"/>
<line x1="115.4" y1="255.5" x2="126.2" y2="255.5" stroke="#a84030" stroke-width="1.4"/>
<text x="127.5" y="250.9" font-size="6.7" text-anchor="start" fill="#1a1a1a" stroke="#1a1a1a" stroke-width="0.25" font-weight="normal" >ts-AML</text>
<text x="127.5" y="257.9" font-size="6.7" text-anchor="start" fill="#1a1a1a" stroke="#1a1a1a" stroke-width="0.25" font-weight="normal" >t-AML</text>
<text x="174.7" y="242.2" font-size="6.7" text-anchor="middle" fill="#1a1a1a" stroke="#1a1a1a" stroke-width="0.25" font-weight="normal" >Tot</text>
<text x="197.5" y="242.2" font-size="6.7" text-anchor="middle" fill="#1a1a1a" stroke="#1a1a1a" stroke-width="0.25" font-weight="normal" >Alive</text>
<text x="225.2" y="242.2" font-size="6.7" text-anchor="middle" fill="#1a1a1a" stroke="#1a1a1a" stroke-width="0.25" font-weight="normal" >Med OS</text>
<text x="174.7" y="250.4" font-size="6.7" text-anchor="middle" fill="#1a1a1a" stroke="#1a1a1a" stroke-width="0.25" font-weight="normal" >200</text>
<text x="197.5" y="250.4" font-size="6.7" text-anchor="middle" fill="#1a1a1a" stroke="#1a1a1a" stroke-width="0.25" font-weight="normal" >31</text>
<text x="225.5" y="250.4" font-size="6.7" text-anchor="middle" fill="#1a1a1a" stroke="#1a1a1a" stroke-width="0.25" font-weight="normal" >4.7 m</text>
<text x="174.7" y="258.2" font-size="6.7" text-anchor="middle" fill="#1a1a1a" stroke="#1a1a1a" stroke-width="0.25" font-weight="normal" >363</text>
<text x="197.5" y="258.2" font-size="6.7" text-anchor="middle" fill="#1a1a1a" stroke="#1a1a1a" stroke-width="0.25" font-weight="normal" >36</text>
<text x="225.5" y="258.2" font-size="6.7" text-anchor="middle" fill="#1a1a1a" stroke="#1a1a1a" stroke-width="0.25" font-weight="normal" >5.4</text>
<text x="188.0" y="271.1" font-size="6.7" text-anchor="start" fill="#1a1a1a" stroke="#1a1a1a" stroke-width="0.25" font-weight="normal" >p=0.24</text>
<text x="266.1" y="228.9" font-size="12" font-weight="bold" fill="#000" stroke="#000" stroke-width="0.4">D</text>
<line x1="298.1" y1="239.3" x2="298.1" y2="372.7" stroke="#000" stroke-width="1.8"/>
<line x1="297.20000000000005" y1="371.8" x2="503.9" y2="371.8" stroke="#000" stroke-width="1.8"/>
<line x1="295.1" y1="371.8" x2="298.1" y2="371.8" stroke="#000" stroke-width="1.4"/>
<text x="291.2" y="374.2" font-size="8" text-anchor="end" fill="#1a1a1a" stroke="#1a1a1a" stroke-width="0.25" font-weight="normal" >0.0</text>
<line x1="295.1" y1="359.2" x2="298.1" y2="359.2" stroke="#000" stroke-width="1.4"/>
<text x="291.2" y="361.6" font-size="8" text-anchor="end" fill="#1a1a1a" stroke="#1a1a1a" stroke-width="0.25" font-weight="normal" >0.1</text>
<line x1="295.1" y1="346.5" x2="298.1" y2="346.5" stroke="#000" stroke-width="1.4"/>
<text x="291.2" y="349.0" font-size="8" text-anchor="end" fill="#1a1a1a" stroke="#1a1a1a" stroke-width="0.25" font-weight="normal" >0.2</text>
<line x1="295.1" y1="333.9" x2="298.1" y2="333.9" stroke="#000" stroke-width="1.4"/>
<text x="291.2" y="336.3" font-size="8" text-anchor="end" fill="#1a1a1a" stroke="#1a1a1a" stroke-width="0.25" font-weight="normal" >0.3</text>
<line x1="295.1" y1="321.2" x2="298.1" y2="321.2" stroke="#000" stroke-width="1.4"/>
<text x="291.2" y="323.7" font-size="8" text-anchor="end" fill="#1a1a1a" stroke="#1a1a1a" stroke-width="0.25" font-weight="normal" >0.4</text>
<line x1="295.1" y1="308.6" x2="298.1" y2="308.6" stroke="#000" stroke-width="1.4"/>
<text x="291.2" y="311.1" font-size="8" text-anchor="end" fill="#1a1a1a" stroke="#1a1a1a" stroke-width="0.25" font-weight="normal" >0.5</text>
<line x1="295.1" y1="296.0" x2="298.1" y2="296.0" stroke="#000" stroke-width="1.4"/>
<text x="291.2" y="298.4" font-size="8" text-anchor="end" fill="#1a1a1a" stroke="#1a1a1a" stroke-width="0.25" font-weight="normal" >0.6</text>
<line x1="295.1" y1="283.3" x2="298.1" y2="283.3" stroke="#000" stroke-width="1.4"/>
<text x="291.2" y="285.8" font-size="8" text-anchor="end" fill="#1a1a1a" stroke="#1a1a1a" stroke-width="0.25" font-weight="normal" >0.7</text>
<line x1="295.1" y1="270.7" x2="298.1" y2="270.7" stroke="#000" stroke-width="1.4"/>
<text x="291.2" y="273.1" font-size="8" text-anchor="end" fill="#1a1a1a" stroke="#1a1a1a" stroke-width="0.25" font-weight="normal" >0.8</text>
<line x1="295.1" y1="258.0" x2="298.1" y2="258.0" stroke="#000" stroke-width="1.4"/>
<text x="291.2" y="260.5" font-size="8" text-anchor="end" fill="#1a1a1a" stroke="#1a1a1a" stroke-width="0.25" font-weight="normal" >0.9</text>
<line x1="295.1" y1="245.4" x2="298.1" y2="245.4" stroke="#000" stroke-width="1.4"/>
<text x="291.2" y="247.8" font-size="8" text-anchor="end" fill="#1a1a1a" stroke="#1a1a1a" stroke-width="0.25" font-weight="normal" >1.0</text>
<line x1="298.1" y1="371.8" x2="298.1" y2="374.8" stroke="#000" stroke-width="1.4"/>
<line x1="338.6" y1="371.8" x2="338.6" y2="374.8" stroke="#000" stroke-width="1.4"/>
<line x1="379.1" y1="371.8" x2="379.1" y2="374.8" stroke="#000" stroke-width="1.4"/>
<line x1="419.6" y1="371.8" x2="419.6" y2="374.8" stroke="#000" stroke-width="1.4"/>
<line x1="460.1" y1="371.8" x2="460.1" y2="374.8" stroke="#000" stroke-width="1.4"/>
<line x1="500.6" y1="371.8" x2="500.6" y2="374.8" stroke="#000" stroke-width="1.4"/>
<text x="298.1" y="385.0" font-size="7.8" text-anchor="middle" fill="#1a1a1a" stroke="#1a1a1a" stroke-width="0.25" font-weight="normal" >0</text>
<text x="338.6" y="385.0" font-size="7.8" text-anchor="middle" fill="#1a1a1a" stroke="#1a1a1a" stroke-width="0.25" font-weight="normal" >12</text>
<text x="379.1" y="385.0" font-size="7.8" text-anchor="middle" fill="#1a1a1a" stroke="#1a1a1a" stroke-width="0.25" font-weight="normal" >24</text>
<text x="419.6" y="385.0" font-size="7.8" text-anchor="middle" fill="#1a1a1a" stroke="#1a1a1a" stroke-width="0.25" font-weight="normal" >36</text>
<text x="460.1" y="385.0" font-size="7.8" text-anchor="middle" fill="#1a1a1a" stroke="#1a1a1a" stroke-width="0.25" font-weight="normal" >48</text>
<text x="500.6" y="385.0" font-size="7.8" text-anchor="middle" fill="#1a1a1a" stroke="#1a1a1a" stroke-width="0.25" font-weight="normal" >60</text>
<text transform="translate(273.8,341.7) rotate(-90)" x="0" y="0" font-size="9" font-weight="bold" fill="#111" stroke="#111" stroke-width="0.3" textLength="72.1" lengthAdjust="spacingAndGlyphs">Overall survival probability</text>
<text x="377.70" y="399.3" font-size="9.5" font-weight="bold" fill="#111" stroke="#111" stroke-width="0.45" textLength="12.93" lengthAdjust="spacingAndGlyphs">Time</text>
<text x="392.93" y="399.3" font-size="9.5" font-weight="bold" fill="#111" stroke="#111" stroke-width="0.45" textLength="8.42" lengthAdjust="spacingAndGlyphs">(in</text>
<text x="403.05" y="399.3" font-size="9.5" font-weight="bold" fill="#111" stroke="#111" stroke-width="0.45" textLength="21.15" lengthAdjust="spacingAndGlyphs">months)</text>
<polyline points="298.1,245.4 298.3,246.0 300.4,257.5 302.6,269.2 304.8,279.5 307.3,290.0 310.4,302.4 313.5,312.8 317.6,324.2 322.8,331.5 328.0,337.7 332.2,345.0 335.3,346.4 340.5,350.2 347.7,352.7 353.9,355.4 360.2,357.0 370.5,357.4 376.8,360.1 380.9,363.7 385.4,364.9 389.2,365.7 395.0,365.9 459.0,365.9 459.0,367.3 500.6,367.3" fill="none" stroke="#981a28" stroke-width="1.6" stroke-linejoin="round" />
<path d="M298.6,246.8v1.8 M299.8,253.1v1.8 M302.0,265.0v1.8 M303.9,274.3v1.8 M306.2,284.4v1.8 M307.6,290.3v1.8 M309.0,296.0v1.8 M311.7,306.0v1.8 M314.3,314.0v1.8 M316.3,319.6v1.8 M322.4,330.0v1.8 M328.6,337.8v1.8 M335.7,345.8v1.8 M340.5,349.3v1.8 M351.4,353.4v1.8 M356.9,355.3v1.8 M368.4,356.4v1.8 M376.5,359.1v1.8 M382.9,363.3v1.8 M392.2,364.9v1.8 M404.2,365.0v1.8 M411.5,365.0v1.8 M417.9,365.0v1.8 M427.1,365.0v1.8 M434.2,365.0v1.8 M440.4,365.0v1.8 M446.9,365.0v1.8 M452.7,365.0v1.8 M459.0,365.6v1.8 M465.8,366.4v1.8 M473.4,366.4v1.8 M484.3,366.4v1.8 M491.8,366.4v1.8" stroke="#701018" stroke-width="0.6" fill="none"/>
<path d="M298.1,245.4 H313.4 V259.3 H314.3 V273.3 H334.6 V287.3 H352.5 V301.3 H392.1 V318.9 H440.6 V336.6 H470.2" fill="none" stroke="#3a3aa0" stroke-width="1.4"/>
<circle cx="362.2" cy="301.3" r="1.1" fill="#202070"/>
<circle cx="455.4" cy="336.6" r="1.1" fill="#202070"/>
<circle cx="470.2" cy="336.6" r="1.1" fill="#202070"/>
<line x1="381.7" y1="262.1" x2="392.5" y2="262.1" stroke="#4a4a98" stroke-width="1.3"/>
<line x1="381.7" y1="268.8" x2="392.5" y2="268.8" stroke="#b04050" stroke-width="1.3"/>
<text x="397.1" y="264.7" font-size="6.5" text-anchor="start" fill="#1a1a1a" stroke="#1a1a1a" stroke-width="0.25" font-weight="normal" >SCT</text>
<text x="397.1" y="271.5" font-size="6.5" text-anchor="start" fill="#1a1a1a" stroke="#1a1a1a" stroke-width="0.25" font-weight="normal" >NoSCT</text>
<text x="430.2" y="256.6" font-size="6.5" text-anchor="middle" fill="#1a1a1a" stroke="#1a1a1a" stroke-width="0.25" font-weight="normal" >Tot</text>
<text x="447.9" y="256.6" font-size="6.5" text-anchor="middle" fill="#1a1a1a" stroke="#1a1a1a" stroke-width="0.25" font-weight="normal" >Alive</text>
<text x="467.5" y="256.6" font-size="6.5" text-anchor="middle" fill="#1a1a1a" stroke="#1a1a1a" stroke-width="0.25" font-weight="normal" >Med</text>
<text x="489.9" y="256.6" font-size="6.5" text-anchor="middle" fill="#1a1a1a" stroke="#1a1a1a" stroke-width="0.25" font-weight="normal" >1-Yr</text>
<text x="430.3" y="264.7" font-size="6.5" text-anchor="middle" fill="#1a1a1a" stroke="#1a1a1a" stroke-width="0.25" font-weight="normal" >9</text>
<text x="447.5" y="264.7" font-size="6.5" text-anchor="middle" fill="#1a1a1a" stroke="#1a1a1a" stroke-width="0.25" font-weight="normal" >3</text>
<text x="466.9" y="264.7" font-size="6.5" text-anchor="middle" fill="#1a1a1a" stroke="#1a1a1a" stroke-width="0.25" font-weight="normal" >16.2m</text>
<text x="490.0" y="264.7" font-size="6.5" text-anchor="middle" fill="#1a1a1a" stroke="#1a1a1a" stroke-width="0.25" font-weight="normal" >67%</text>
<text x="430.2" y="271.5" font-size="6.5" text-anchor="middle" fill="#1a1a1a" stroke="#1a1a1a" stroke-width="0.25" font-weight="normal" >191</text>
<text x="447.5" y="271.5" font-size="6.5" text-anchor="middle" fill="#1a1a1a" stroke="#1a1a1a" stroke-width="0.25" font-weight="normal" >28</text>
<text x="467.5" y="271.5" font-size="6.5" text-anchor="middle" fill="#1a1a1a" stroke="#1a1a1a" stroke-width="0.25" font-weight="normal" >4.8m</text>
<text x="490.0" y="271.5" font-size="6.5" text-anchor="middle" fill="#1a1a1a" stroke="#1a1a1a" stroke-width="0.25" font-weight="normal" >20%</text>
</g>
<rect x="0" y="0" width="520" height="1.4" fill="#000"/><rect x="0" y="0" width="1.5" height="410" fill="#000"/><rect x="518.3" y="0" width="1.7" height="410" fill="#000"/><rect x="0" y="408.1" width="520" height="1.9" fill="#000"/>
</svg>
</body></html>
